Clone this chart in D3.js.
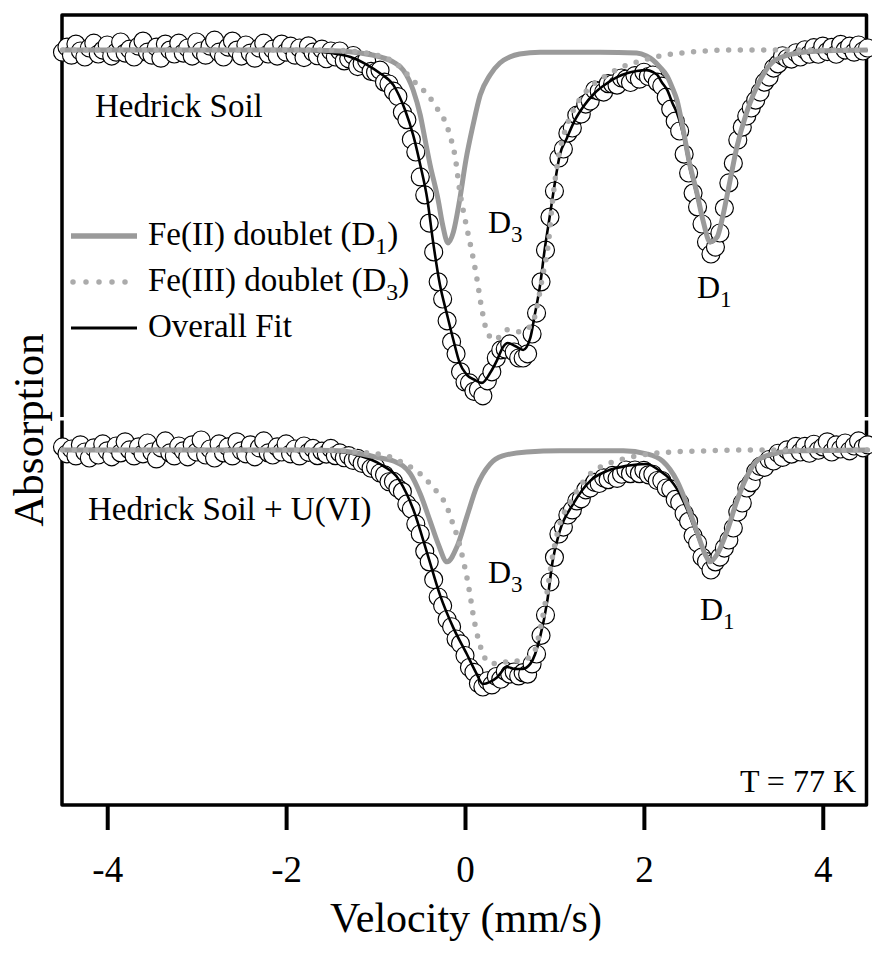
<!DOCTYPE html>
<html><head><meta charset="utf-8">
<script src="https://cdn.jsdelivr.net/npm/d3@7"></script>
<style>
body{margin:0;background:#fff}
svg{display:block;background:#fff}
text{font-family:"Liberation Serif","Times New Roman",Times,serif;fill:#000}
</style>
</head><body>
<svg id="c" width="872" height="962"></svg>
<script>
// ---------- DATA (relative transmission, %) ----------
// velocity channels of the folded spectrum (mm/s), uniform 0.05 mm/s spacing
const velocityChannels = d3.range(181).map(i => +(-4.5 + 0.05 * i).toFixed(2));

const topDataT = [
99.93,100.10,99.83,100.20,99.97,99.77,100.07,100.23,99.87,100.00,
100.17,99.80,99.93,100.27,99.90,100.03,99.77,100.13,100.30,99.93,
99.83,100.10,99.73,100.20,100.00,99.87,100.23,99.90,100.07,99.80,
100.27,99.97,99.83,100.13,100.33,99.93,99.77,100.10,100.30,100.00,
99.80,100.17,99.90,99.73,100.07,100.23,99.87,100.03,99.80,100.20,
99.93,100.13,99.83,100.07,99.75,100.14,99.93,99.81,100.03,99.71,
99.97,99.77,99.97,99.64,99.71,99.82,99.45,99.55,99.65,99.29,
99.26,99.33,98.93,98.87,98.63,98.45,97.93,97.68,97.02,96.60,
95.77,95.17,94.23,93.27,92.27,91.70,90.97,90.27,89.87,89.27,
88.93,88.90,88.62,88.68,88.47,88.97,89.27,89.73,90.00,90.03,
90.20,89.93,89.73,89.73,89.87,90.53,91.23,92.27,93.33,94.43,
95.30,96.40,96.70,97.23,97.40,97.83,97.87,98.20,98.30,98.67,
98.63,98.60,98.88,98.87,98.83,99.07,99.03,98.92,99.15,99.03,
99.26,99.12,99.17,98.93,98.80,98.43,98.03,97.63,97.30,96.53,
95.90,95.23,94.77,94.20,93.60,93.20,93.43,93.90,94.73,95.57,
96.23,97.00,97.43,97.80,98.07,98.33,98.60,98.93,99.10,99.40,
99.54,99.81,99.72,99.70,99.91,99.77,100.01,99.86,100.08,99.86,
100.13,99.95,100.09,99.86,100.19,100.00,100.13,99.93,100.17,99.97,
100.07];

const bottomDataT = [
100.10,99.87,100.03,99.80,100.17,99.93,99.73,100.07,99.83,100.20,
99.97,99.77,100.13,99.90,100.27,100.00,99.80,100.10,99.87,100.23,
99.93,99.70,100.07,100.30,99.90,99.80,100.13,99.97,99.77,100.17,
99.93,100.33,99.83,100.03,99.73,100.20,99.90,100.10,99.80,100.27,
99.97,99.87,100.17,99.77,100.07,100.30,99.90,99.83,100.10,99.93,
100.20,99.87,100.03,99.80,100.13,99.92,100.05,99.81,99.96,99.86,
100.05,99.81,99.90,99.74,99.81,99.65,99.72,99.55,99.58,99.39,
99.43,99.23,99.17,98.94,98.95,98.72,98.61,98.20,98.03,97.53,
97.20,96.62,96.27,95.68,95.10,94.81,94.35,94.11,93.70,93.54,
93.15,92.75,92.59,92.22,92.10,92.31,92.17,92.45,92.36,92.63,
92.53,92.60,92.47,92.58,92.53,92.87,93.20,93.82,94.50,95.60,
96.42,97.20,97.43,97.83,98.00,98.30,98.37,98.67,98.73,98.92,
98.88,99.07,99.01,99.15,99.05,99.19,99.33,99.21,99.33,99.21,
99.32,99.17,99.19,98.98,98.98,98.73,98.70,98.35,98.25,97.88,
97.62,97.14,96.90,96.43,96.28,96.00,96.27,96.43,96.73,97.00,
97.40,97.93,98.23,98.73,98.91,99.28,99.45,99.42,99.68,99.63,
99.89,99.75,100.00,99.86,100.12,99.93,100.12,99.89,100.19,99.99,
100.10,100.27,99.93,100.17,100.03,100.23,99.97,100.13,100.30,100.07,
100.17];

// fitted curves: [velocity, transmission]
const topOverallFit = [[-4.5,100],[-1.84,100],[-1.5,99.9],[-1.28,99.77],[-1.09,99.5],[-0.95,99.23],[-0.8,98.83],[-0.67,98],[-0.58,97.17],[-0.5,96.17],[-0.42,95],[-0.36,93.67],[-0.28,92.17],[-0.2,91.17],[-0.13,90.33],[-0.06,89.57],[0.02,89.17],[0.11,89],[0.19,88.9],[0.28,89.23],[0.36,89.67],[0.42,90.07],[0.48,90.23],[0.56,90.13],[0.65,90],[0.73,90.4],[0.78,91.17],[0.84,92.17],[0.89,93.33],[0.95,94.5],[1.01,95.67],[1.06,96.5],[1.14,97.07],[1.23,97.67],[1.32,98.1],[1.45,98.57],[1.59,98.9],[1.7,99.1],[1.81,99.23],[1.92,99.3],[2.03,99.33],[2.1,99.27],[2.15,99.17],[2.2,98.93],[2.26,98.67],[2.32,98.23],[2.37,97.9],[2.44,97.17],[2.51,96.1],[2.59,95.17],[2.66,94.27],[2.74,93.57],[2.82,93.73],[2.88,94.4],[2.96,95.53],[3.04,96.7],[3.15,97.9],[3.3,99],[3.44,99.6],[3.66,99.87],[3.97,99.97],[4.5,100]];
const topFeIIDoublet = [[-4.5,100],[-1.84,100],[-1.4,99.97],[-1.17,99.9],[-0.95,99.77],[-0.8,99.6],[-0.69,99.33],[-0.58,98.67],[-0.5,97.83],[-0.45,97.07],[-0.39,96.17],[-0.3,95],[-0.25,94.17],[-0.19,93.57],[-0.13,93.93],[-0.06,95],[0.01,96.33],[0.09,97.5],[0.17,98.5],[0.28,99.17],[0.39,99.57],[0.5,99.77],[0.61,99.87],[0.84,99.93],[1.51,99.93],[1.92,99.9],[2.03,99.8],[2.1,99.67],[2.18,99.43],[2.26,99.13],[2.32,98.73],[2.37,98.33],[2.44,97.33],[2.51,96.23],[2.59,95.27],[2.66,94.33],[2.74,93.6],[2.82,93.77],[2.88,94.43],[2.96,95.6],[3.04,96.77],[3.15,97.93],[3.3,99],[3.44,99.6],[3.66,99.87],[3.97,99.97],[4.5,100]];
const topFeIIIDoublet = [[-4.5,100],[-1.5,100],[-1.17,99.93],[-0.95,99.8],[-0.78,99.57],[-0.67,99.27],[-0.59,99],[-0.5,98.77],[-0.39,98.4],[-0.3,98],[-0.22,97.6],[-0.17,97.17],[-0.11,96.43],[-0.06,95.33],[0.02,94.07],[0.08,93.23],[0.13,92.43],[0.19,91.33],[0.25,90.57],[0.34,90.33],[0.4,90.5],[0.47,90.67],[0.58,90.6],[0.67,90.67],[0.76,90.93],[0.82,91.67],[0.87,92.5],[0.93,93.5],[0.98,95],[1.04,96.33],[1.14,97.5],[1.23,98.1],[1.32,98.5],[1.45,98.9],[1.59,99.17],[1.73,99.4],[1.92,99.6],[2.18,99.8],[2.51,99.93],[2.96,100],[4.5,100]];

const bottomOverallFit = [[-4.5,100],[-1.84,100],[-1.4,99.93],[-1.17,99.8],[-0.95,99.53],[-0.73,98.97],[-0.58,98.03],[-0.42,96.53],[-0.28,95.17],[-0.13,94.07],[0.02,93.2],[0.12,92.6],[0.2,92.2],[0.28,92.27],[0.36,92.43],[0.47,92.77],[0.56,92.7],[0.64,92.7],[0.73,92.87],[0.84,93.77],[0.92,94.97],[0.98,96.3],[1.06,97.3],[1.21,98.2],[1.4,98.97],[1.59,99.3],[1.81,99.47],[2.03,99.53],[2.18,99.3],[2.29,99.03],[2.37,98.7],[2.48,98.03],[2.59,97.2],[2.66,96.7],[2.74,96.27],[2.82,96.5],[2.93,97.27],[3.04,98.27],[3.15,99.07],[3.26,99.6],[3.44,99.83],[3.74,99.97],[4.5,100]];
const bottomFeIIDoublet = [[-4.5,100],[-1.84,100],[-1.4,99.97],[-1.17,99.87],[-0.95,99.73],[-0.8,99.63],[-0.61,99.2],[-0.5,98.53],[-0.39,97.63],[-0.3,96.87],[-0.2,96.27],[-0.09,96.77],[0.02,97.77],[0.13,98.77],[0.28,99.53],[0.42,99.8],[0.69,99.93],[1.06,99.97],[1.77,99.97],[2.03,99.87],[2.21,99.63],[2.37,98.97],[2.48,98.2],[2.59,97.3],[2.7,96.43],[2.74,96.27],[2.82,96.53],[2.93,97.3],[3.04,98.3],[3.15,99.1],[3.26,99.63],[3.44,99.87],[3.74,99.97],[4.5,100]];
const bottomFeIIIDoublet = [[-4.5,100],[-1.5,100],[-1.17,99.93],[-0.84,99.77],[-0.67,99.53],[-0.5,99.2],[-0.39,98.87],[-0.28,98.47],[-0.2,98.1],[-0.17,97.83],[-0.11,97.33],[-0.06,96.83],[-0.02,96.33],[0.02,95.77],[0.06,95.1],[0.09,94.53],[0.13,93.93],[0.19,93.3],[0.26,92.93],[0.39,92.87],[0.5,92.97],[0.61,92.97],[0.76,93.2],[0.86,94.3],[0.92,95.3],[0.97,96.3],[1.03,97.2],[1.21,98.43],[1.4,99.2],[1.59,99.53],[1.81,99.73],[2.07,99.87],[2.32,99.93],[2.7,99.97],[3.22,100],[4.5,100]];

const xTickValues = [-4, -2, 0, 2, 4];
const legendLabels = [["Fe(II) doublet (D", "1", ")"], ["Fe(III) doublet (D", "3", ")"], ["Overall Fit", "", ""]];
const panelTitles = ["Hedrick Soil", "Hedrick Soil + U(VI)"];

// ---------- DRAWING ----------
const FONT = '"Liberation Serif","Times New Roman",Times,serif';
const svg = d3.select("#c");
const x = d3.scaleLinear().domain([-4.5, 4.5]).range([62.5, 867.5]);
const yTop = d3.scaleLinear().domain([87.73, 101.17]).range([418, 15]);
const yBot = d3.scaleLinear().domain([88.17, 101.03]).range([805, 419]);

const GRAY = "#9a9a9a", DOT = "#ababab";
const xl = x(-4.5) - 0.5, xr = x(4.5) - 1;

// frames
svg.append("path").attr("d", `M${xl},417 V15 H${xr} V417`)
  .attr("fill", "none").attr("stroke", "#000").attr("stroke-width", 3.5).attr("stroke-linejoin", "round");
svg.append("path").attr("d", `M${xl},420.5 V805 H${xr} V420.5`)
  .attr("fill", "none").attr("stroke", "#000").attr("stroke-width", 3.5).attr("stroke-linejoin", "round");

// bottom axis ticks
const axis = d3.axisBottom(x).tickValues(xTickValues).tickSize(25).tickPadding(26)
  .tickFormat(d => d < 0 ? "-" + Math.abs(d) : String(d));
const ax = svg.append("g").attr("transform", "translate(0,805)").call(axis)
  .attr("font-family", FONT);
ax.select(".domain").remove();
ax.selectAll(".tick line").attr("stroke", "#000").attr("stroke-width", 4);
ax.selectAll(".tick text").attr("font-size", 37).attr("font-family", FONT).attr("fill", "#000");

function drawPanel(vals, overall, feII, feIII, y) {
  const pts = velocityChannels.map((v, i) => [v, vals[i]]);
  svg.append("g").selectAll("circle").data(pts).join("circle")
    .attr("cx", d => x(d[0])).attr("cy", d => y(d[1])).attr("r", 9)
    .attr("fill", "#fff").attr("stroke", "#000").attr("stroke-width", 1.15);
  const line = d3.line().x(d => x(d[0])).y(d => y(d[1])).curve(d3.curveMonotoneX);
  svg.append("path").attr("d", line(overall)).attr("fill", "none")
    .attr("stroke", "#000").attr("stroke-width", 2.6);
  svg.append("path").attr("d", line(feII)).attr("fill", "none")
    .attr("stroke", GRAY).attr("stroke-width", 5);
  svg.append("path").attr("d", line(feIII)).attr("fill", "none")
    .attr("stroke", DOT).attr("stroke-width", 5.5).attr("stroke-linecap", "round")
    .attr("stroke-dasharray", "0,11.7");
}
drawPanel(topDataT, topOverallFit, topFeIIDoublet, topFeIIIDoublet, yTop);
drawPanel(bottomDataT, bottomOverallFit, bottomFeIIDoublet, bottomFeIIIDoublet, yBot);

// text helpers
function subText(xp, yp, main, sub, tail, size) {
  const t = svg.append("text").attr("x", xp).attr("y", yp).attr("font-size", size).attr("font-family", FONT);
  t.append("tspan").text(main);
  if (sub) {
    t.append("tspan").attr("dy", size * 0.28).attr("font-size", size * 0.72).text(sub);
    t.append("tspan").attr("dy", -size * 0.28).text(tail);
  }
  return t;
}

// panel titles
svg.append("text").attr("x", 95).attr("y", 117).attr("font-size", 33).attr("font-family", FONT).text(panelTitles[0]);
svg.append("text").attr("x", 88).attr("y", 520).attr("font-size", 33).attr("font-family", FONT).text(panelTitles[1]);

// legend
legendLabels.forEach((lab, i) => {
  const ly = 236 + i * 46;
  const ln = svg.append("line").attr("x1", 71).attr("x2", 137).attr("y1", ly).attr("y2", ly);
  if (i === 0) ln.attr("stroke", GRAY).attr("stroke-width", 5.5);
  if (i === 1) ln.attr("x1", 73).attr("x2", 126).attr("stroke", DOT).attr("stroke-width", 5.5)
      .attr("stroke-linecap", "round").attr("stroke-dasharray", "0,13");
  if (i === 2) ln.attr("stroke", "#000").attr("stroke-width", 3);
  subText(148, ly + 9, lab[0], lab[1], lab[2], 33);
});

// peak labels
subText(488, 233, "D", "3", "", 32);
subText(697, 298, "D", "1", "", 32);
subText(488, 583, "D", "3", "", 32);
subText(700, 620, "D", "1", "", 32);

// temperature
svg.append("text").attr("x", 856).attr("y", 792).attr("text-anchor", "end").attr("font-size", 32).attr("font-family", FONT).text("T = 77 K");

// axis titles
svg.append("text").attr("x", 466).attr("y", 932).attr("text-anchor", "middle").attr("font-size", 42).attr("font-family", FONT).text("Velocity (mm/s)");
svg.append("text").attr("transform", "translate(43,430) rotate(-90)").attr("text-anchor", "middle").attr("font-size", 43).attr("font-family", FONT).text("Absorption");
</script>
</body></html>
